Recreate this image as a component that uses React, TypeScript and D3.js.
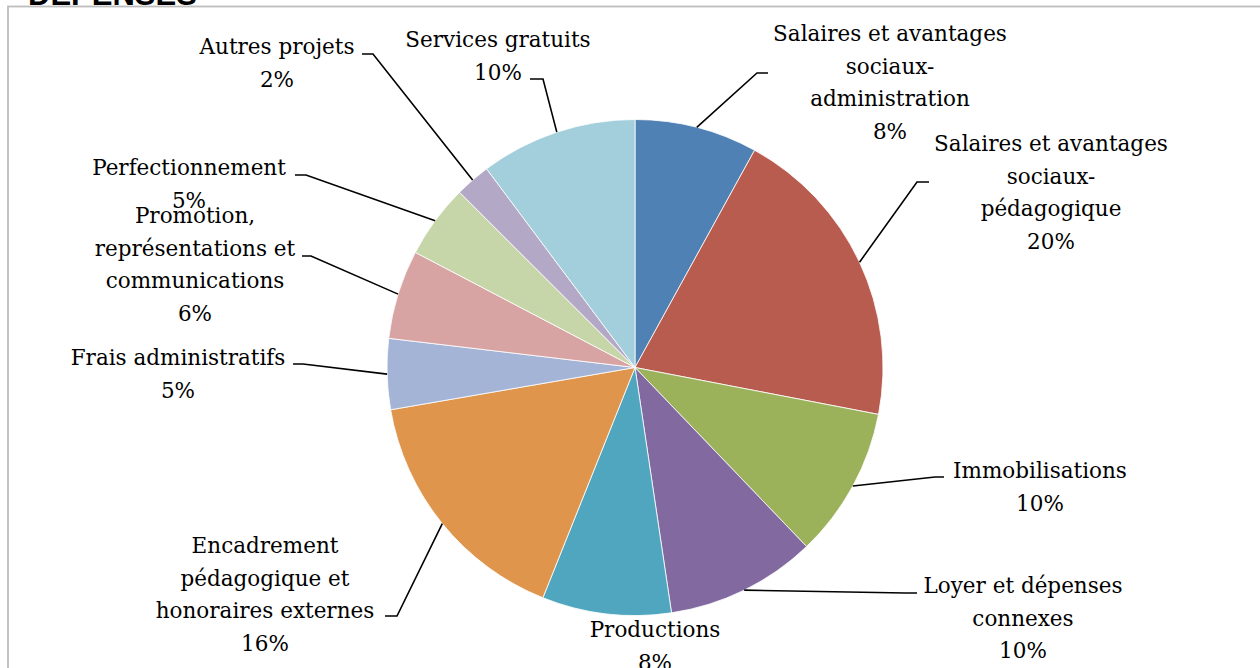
import * as d3 from 'd3';

// Data (share of expenses, %)
const categories: string[][] = [
  ['Salaires et avantages', 'sociaux-', 'administration'],
  ['Salaires et avantages', 'sociaux-', 'pédagogique'],
  ['Immobilisations'],
  ['Loyer et dépenses', 'connexes'],
  ['Productions'],
  ['Encadrement', 'pédagogique et', 'honoraires externes'],
  ['Frais administratifs'],
  ['Promotion,', 'représentations et', 'communications'],
  ['Perfectionnement'],
  ['Autres projets'],
  ['Services gratuits'],
];

const values: number[] = [8.0, 20.0, 9.8, 9.8, 8.4, 16.2, 4.6, 5.8, 4.8, 2.3, 10.2];

const colors: string[] = [
  '#4f81b5', '#b95c50', '#9bb25b', '#8269a0', '#4fa6be', '#df954c',
  '#a3b4d7', '#d8a4a3', '#c6d6a8', '#b3a9c7', '#a3cedb',
];

// Label placement (text centre x, first baseline y, leader elbow, horizontal end)
interface LabelPos { x: number; y: number; ex?: number; ey?: number; hx?: number }
const labelLayout: LabelPos[] = [
  { x: 890, y: 41, ex: 757, ey: 73, hx: 768 },
  { x: 1051, y: 151, ex: 917, ey: 182, hx: 929 },
  { x: 1040, y: 478, ex: 935, ey: 477, hx: 944 },
  { x: 1023, y: 593, ex: 905, ey: 593, hx: 917 },
  { x: 655, y: 637 },
  { x: 265, y: 553, ex: 397, ey: 616, hx: 385 },
  { x: 178, y: 365, ex: 303, ey: 364, hx: 293 },
  { x: 195, y: 223, ex: 311, ey: 256, hx: 302 },
  { x: 189, y: 175, ex: 306, ey: 175, hx: 295 },
  { x: 277, y: 54, ex: 373, ey: 54, hx: 362 },
  { x: 498, y: 47, ex: 543, ey: 79, hx: 530 },
];

const WIDTH = 1260;
const HEIGHT = 668;
const CX = 635;
const CY = 367.5;
const R = 248;
const LINE_H = 32.5;

export default function App() {
  const total = d3.sum(values);
  const pie = d3.pie<number>().sort(null).value(d => d);
  const arcs = pie(values);
  const arc = d3.arc<d3.PieArcDatum<number>>().innerRadius(0).outerRadius(R);
  const edge = d3.arc<d3.PieArcDatum<number>>().innerRadius(R).outerRadius(R);

  return (
    <svg
      width={WIDTH}
      height={HEIGHT}
      style={{ position: 'absolute', left: 0, top: 0, background: '#fff' }}
    >
      <text
        x={28}
        y={5}
        fontFamily="Liberation Sans, Arial, sans-serif"
        fontWeight="bold"
        fontSize={31}
        fill="#000"
      >
        DÉPENSES
      </text>
      <rect x={8} y={6.5} width={1300} height={700} fill="none" stroke="#bdbdbd" strokeWidth={1.8} />

      <g transform={`translate(${CX},${CY})`}>
        {arcs.map((a, i) => (
          <path key={i} d={arc(a) ?? ''} fill={colors[i]} stroke="#fff" strokeWidth={0.8} />
        ))}
      </g>

      <g fill="none" stroke="#000" strokeWidth={1.6}>
        {arcs.map((a, i) => {
          const p = labelLayout[i];
          if (p.ex === undefined) return null;
          const [sx, sy] = edge.centroid(a);
          const d = `M${CX + sx},${CY + sy}L${p.ex},${p.ey}L${p.hx},${p.ey}`;
          return <path key={i} d={d} />;
        })}
      </g>

      <g fontFamily="DejaVu Serif, serif" fontSize={21.5} fill="#000" textAnchor="middle">
        {categories.map((lines, i) => {
          const p = labelLayout[i];
          const all = [...lines, `${Math.round((values[i] / total) * 100)}%`];
          return (
            <text key={i} x={p.x} y={p.y}>
              {all.map((t, j) => (
                <tspan key={j} x={p.x} y={p.y + j * LINE_H}>
                  {t}
                </tspan>
              ))}
            </text>
          );
        })}
      </g>
    </svg>
  );
}
